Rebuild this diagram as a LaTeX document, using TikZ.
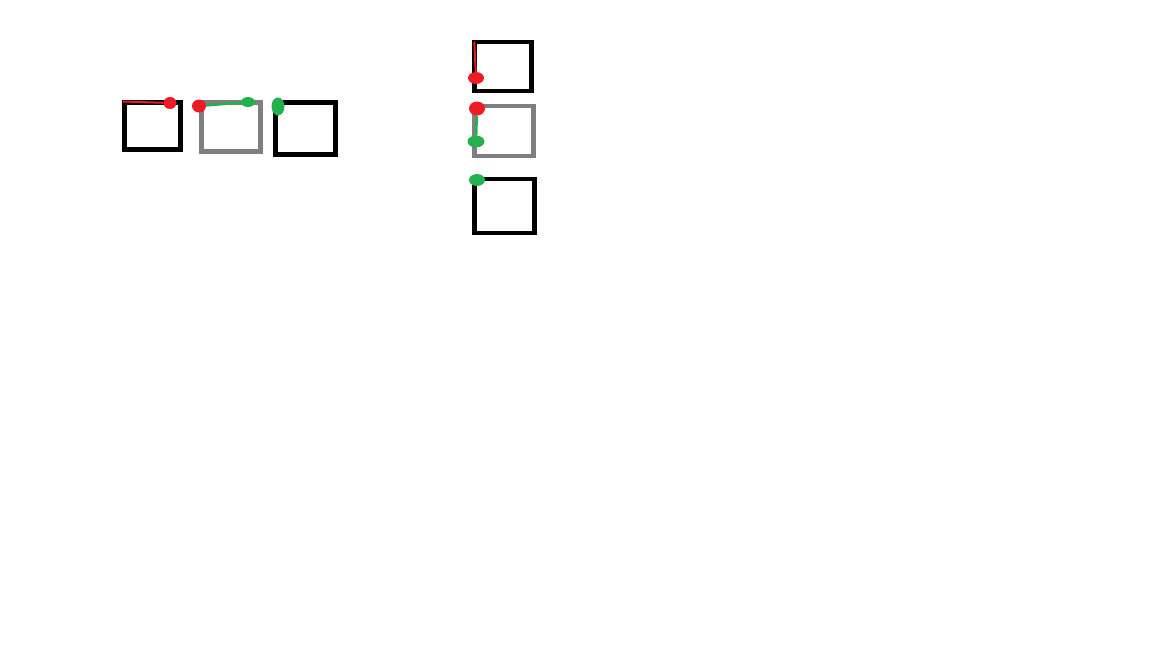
\documentclass[tikz,border=0pt]{standalone}
\usetikzlibrary{shapes.geometric}
\definecolor{paintred}{RGB}{237,28,36}
\definecolor{paintgreen}{RGB}{34,177,76}
\definecolor{paintgray}{RGB}{127,127,127}
\tikzset{
  box/.style={draw=black,line width=4.5pt,inner sep=0pt},
  graybox/.style={box,draw=paintgray},
  blob/.style={ellipse,inner sep=0pt,minimum width=14pt,minimum height=12pt},
  redblob/.style={blob,fill=paintred},
  greenblob/.style={blob,fill=paintgreen},
  redline/.style={paintred,line width=2pt},
  greenline/.style={paintgreen,line width=2.5pt}
}
\begin{document}
\begin{tikzpicture}[x=1pt,y=-1pt]
\useasboundingbox (0,0) rectangle (1152,648);
%\draw [help lines,step=50pt] (0,0) grid (1152,648);
\node[box,minimum width=56pt,minimum height=47pt] (boxa) at (152.5,126) {};
\node[graybox,minimum width=59pt,minimum height=49pt] (boxb) at (231,127) {};
\node[box,minimum width=60pt,minimum height=52pt] (boxc) at (305.5,128.5) {};
\node[box,minimum width=57pt,minimum height=49pt] (boxd) at (503,66.5) {};
\node[graybox,minimum width=59pt,minimum height=50pt] (boxe) at (504,131) {};
\node[box,minimum width=60pt,minimum height=54pt] (boxf) at (504.5,206) {};
\coordinate (reda) at (123,101.5);
\node[redblob,minimum width=13pt] (redab) at (170,103) {};
\node[redblob,minimum height=13pt] (redba) at (199,106) {};
\node[greenblob,minimum height=10pt] (greenbc) at (248,102) {};
\node[greenblob,minimum width=13pt,minimum height=18pt] (greencb) at (278,106.5) {};
\draw[redline] (reda) -- (redab);
\draw[greenline] (redba) -- (greenbc);
\coordinate (redd) at (474.3,41.7);
\node[redblob,minimum width=16pt] (reddf) at (476,78) {};
\node[redblob,minimum width=16pt,minimum height=14pt] (reded) at (477,108.5) {};
\node[greenblob,minimum width=17pt] (greenef) at (476,141.5) {};
\node[greenblob,minimum width=16pt] (greenfe) at (477,180) {};
\draw[redline] (redd) -- (reddf);
\draw[greenline] (reded) -- (greenef);
\end{tikzpicture}
\end{document}
